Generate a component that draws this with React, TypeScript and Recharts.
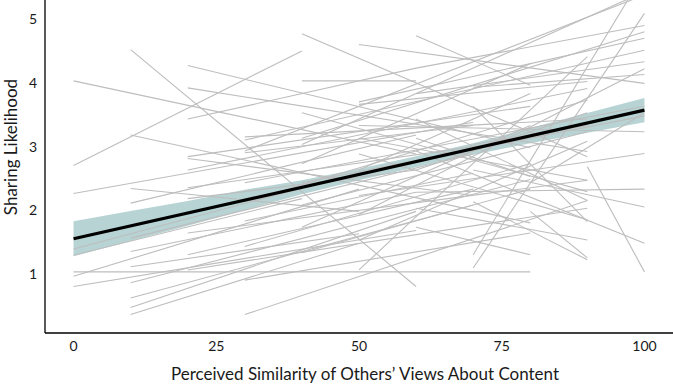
import React from "react";
import { ComposedChart, Line, Area, XAxis, YAxis } from "recharts";

// Axis ticks
const similarityTicks = [0, 25, 50, 75, 100];
const likelihoodTicks = [1, 2, 3, 4, 5];

// Pooled fit with its confidence band
const bandX = [0, 10, 20, 30, 40, 50, 60, 70, 80, 90, 100];
const bandLow = [1.245, 1.485, 1.725, 1.97, 2.22, 2.44, 2.645, 2.84, 3.02, 3.185, 3.35];
const bandHigh = [1.795, 1.955, 2.115, 2.29, 2.44, 2.62, 2.815, 3.02, 3.26, 3.495, 3.73];
const fitX = [0, 100];
const fitY = [1.52, 3.54];

// Per-participant fitted lines: [startX, startY, endX, endY]
const participantLines: [number, number, number, number][] = [
  [0, 4.0, 60, 2.85],
  [0, 2.67, 40, 4.47],
  [0, 2.23, 70, 3.35],
  [0, 1.36, 50, 2.55],
  [0, 1.26, 40, 2.15],
  [0, 1.0, 80, 1.0],
  [0, 0.93, 50, 2.3],
  [0, 0.77, 60, 1.65],

  [10, 4.49, 60, 0.77],
  [10, 3.15, 80, 1.77],
  [10, 2.31, 50, 1.95],
  [10, 2.08, 60, 3.15],
  [10, 1.53, 70, 2.85],
  [10, 1.32, 60, 2.25],
  [10, 1.08, 50, 1.6],
  [10, 0.83, 80, 2.45],
  [10, 0.59, 70, 2.05],
  [10, 0.44, 60, 1.95],
  [10, 0.33, 50, 1.45],

  [20, 4.24, 80, 2.95],
  [20, 3.89, 90, 2.89],
  [20, 3.4, 60, 4.2],
  [20, 2.81, 80, 3.6],
  [20, 2.78, 70, 2.2],
  [20, 2.6, 90, 3.88],
  [20, 2.32, 80, 3.1],
  [20, 2.15, 60, 2.6],
  [20, 1.61, 90, 2.44],
  [20, 1.27, 70, 2.3],
  [20, 1.03, 90, 2.0],

  [30, 3.12, 90, 3.4],
  [30, 3.07, 100, 4.48],
  [30, 2.87, 70, 3.3],
  [30, 2.4, 100, 3.6],
  [30, 1.8, 70, 2.55],
  [30, 0.87, 80, 1.61],
  [30, 0.33, 90, 2.12],
  [30, 2.9, 100, 5.35],
  [30, 2.1, 90, 3.7],
  [30, 1.4, 80, 2.7],

  [40, 4.74, 90, 2.81],
  [40, 4.0, 60, 4.0],
  [40, 3.1, 100, 4.77],
  [40, 3.0, 100, 5.4],
  [40, 2.4, 100, 3.45],
  [40, 2.05, 90, 3.2],
  [40, 1.7, 80, 3.3],
  [40, 1.3, 80, 2.3],
  [40, 2.7, 80, 4.27],
  [40, 3.5, 90, 2.26],

  [50, 4.57, 100, 3.96],
  [50, 3.67, 100, 4.67],
  [50, 3.63, 90, 3.99],
  [50, 1.03, 90, 4.38],
  [50, 2.2, 100, 2.86],
  [50, 3.1, 90, 2.44],
  [50, 2.6, 80, 3.8],
  [50, 1.9, 100, 4.19],
  [50, 3.3, 100, 3.2],
  [50, 2.85, 90, 1.82],
  [50, 1.5, 90, 3.05],

  [60, 4.71, 80, 3.93],
  [60, 4.2, 100, 4.87],
  [60, 2.9, 100, 1.45],
  [60, 2.25, 100, 2.3],
  [60, 3.8, 100, 4.3],
  [60, 3.4, 90, 2.12],
  [60, 2.0, 90, 1.5],
  [60, 1.7, 80, 1.27],
  [60, 3.1, 80, 2.5],
  [60, 2.6, 90, 3.5],

  [70, 1.06, 100, 5.06],
  [70, 1.27, 100, 5.7],
  [70, 2.6, 100, 2.02],
  [70, 3.6, 90, 1.79],
  [70, 2.1, 90, 1.19],
  [70, 3.9, 100, 4.1],
  [70, 3.0, 90, 3.3],

  [80, 2.4, 100, 3.5],
  [80, 1.95, 90, 1.22],

  [90, 2.65, 100, 1.0],
];

const bandData = bandX.map((x, i) => ({ x, range: [bandLow[i], bandHigh[i]] }));
const fitData = fitX.map((x, i) => ({ x, y: fitY[i] }));

const FONT = "Lato, 'Open Sans', sans-serif";
const TEXT = "#1a1a1a";

const XTick = (props: any) => (
  <text
    x={props.x}
    y={props.y}
    dy={10}
    textAnchor="middle"
    fontFamily={FONT}
    fontSize={14}
    fill={TEXT}
  >
    {props.payload.value}
  </text>
);

const YTick = (props: any) => (
  <text
    x={props.x}
    y={props.y}
    dy={7}
    textAnchor="end"
    fontFamily={FONT}
    fontSize={14}
    fill={TEXT}
  >
    {props.payload.value}
  </text>
);

const XTitle = () => (
  <text x={365} y={380} textAnchor="middle" fontFamily={FONT} fontSize={17} fill={TEXT}>
    Perceived Similarity of Others{"\u2019"} Views About Content
  </text>
);

const YTitle = () => (
  <text
    transform="translate(17,147) rotate(-90)"
    textAnchor="middle"
    fontFamily={FONT}
    fontSize={17}
    fill={TEXT}
  >
    Sharing Likelihood
  </text>
);

export default function App() {
  return (
    <div style={{ position: "absolute", left: 0, top: 0, width: 673, height: 385, background: "#fff" }}>
      <ComposedChart
        width={673}
        height={385}
        data={bandData}
        margin={{ top: 0, right: 0, bottom: 0, left: 0 }}
      >
        <XAxis
          dataKey="x"
          type="number"
          domain={[-5, 105]}
          ticks={similarityTicks}
          tickLine={false}
          axisLine={{ stroke: "#000", strokeWidth: 1.3 }}
          height={52}
          tick={XTick}
          allowDataOverflow
          label={{ content: XTitle }}
        />
        <YAxis
          type="number"
          domain={[0.04, 5.27]}
          ticks={likelihoodTicks}
          width={45}
          tickLine={false}
          axisLine={{ stroke: "#000", strokeWidth: 1.3 }}
          tick={YTick}
          allowDataOverflow
          label={{ content: YTitle }}
        />
        {participantLines.map(([x0, y0, x1, y1], i) => (
          <Line
            key={`p${i}`}
            data={[
              { x: x0, y: y0 },
              { x: x1, y: y1 },
            ]}
            dataKey="y"
            stroke="#bdbdbd"
            strokeWidth={1.1}
            dot={false}
            activeDot={false}
            isAnimationActive={false}
          />
        ))}
        <Area
          dataKey="range"
          stroke="none"
          fill="#5f9ea0"
          fillOpacity={0.45}
          isAnimationActive={false}
          activeDot={false}
        />
        <Line
          data={fitData}
          dataKey="y"
          stroke="#000"
          strokeWidth={3.2}
          dot={false}
          activeDot={false}
          isAnimationActive={false}
        />
      </ComposedChart>
    </div>
  );
}
